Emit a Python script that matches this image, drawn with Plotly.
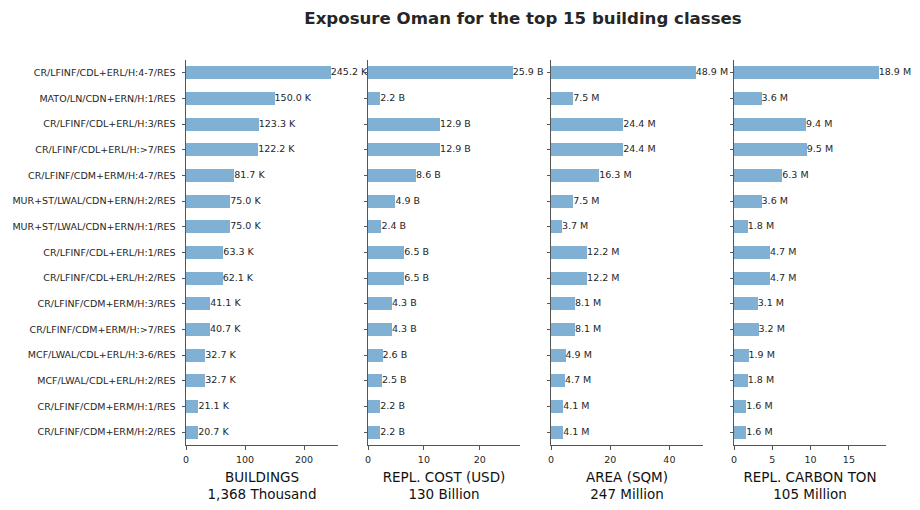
import plotly.graph_objects as go

categories = [
    "CR/LFINF/CDL+ERL/H:4-7/RES",
    "MATO/LN/CDN+ERN/H:1/RES",
    "CR/LFINF/CDL+ERL/H:3/RES",
    "CR/LFINF/CDL+ERL/H:>7/RES",
    "CR/LFINF/CDM+ERM/H:4-7/RES",
    "MUR+ST/LWAL/CDN+ERN/H:2/RES",
    "MUR+ST/LWAL/CDN+ERN/H:1/RES",
    "CR/LFINF/CDL+ERL/H:1/RES",
    "CR/LFINF/CDL+ERL/H:2/RES",
    "CR/LFINF/CDM+ERM/H:3/RES",
    "CR/LFINF/CDM+ERM/H:>7/RES",
    "MCF/LWAL/CDL+ERL/H:3-6/RES",
    "MCF/LWAL/CDL+ERL/H:2/RES",
    "CR/LFINF/CDM+ERM/H:1/RES",
    "CR/LFINF/CDM+ERM/H:2/RES",
]

buildings_k = [245.2, 150.0, 123.3, 122.2, 81.7, 75.0, 75.0, 63.3, 62.1, 41.1, 40.7, 32.7, 32.7, 21.1, 20.7]
cost_b = [25.9, 2.2, 12.9, 12.9, 8.6, 4.9, 2.4, 6.5, 6.5, 4.3, 4.3, 2.6, 2.5, 2.2, 2.2]
area_m = [48.9, 7.5, 24.4, 24.4, 16.3, 7.5, 3.7, 12.2, 12.2, 8.1, 8.1, 4.9, 4.7, 4.1, 4.1]
carbon_m = [18.9, 3.6, 9.4, 9.5, 6.3, 3.6, 1.8, 4.7, 4.7, 3.1, 3.2, 1.9, 1.8, 1.6, 1.6]

panel_titles = ["BUILDINGS<br>1,368 Thousand", "REPL. COST (USD)<br>130 Billion",
                "AREA (SQM)<br>247 Million", "REPL. CARBON TON<br>105 Million"]
units = ["K", "B", "M", "M"]
dticks = [100, 10, 20, 5]
series = [buildings_k, cost_b, area_m, carbon_m]

W, H = 920, 510
ML, MR, MT, MB = 186, 34, 60, 65
PW = W - ML - MR
lefts = [186, 368, 551, 734]
pw = 152
domains = [[(l - ML) / PW, min(1.0, (l - ML + pw) / PW)] for l in lefts]

bar_color = "#80b0d4"
txt_color = "#262626"
axis_color = "#555555"

fig = go.Figure()
for i, (vals, unit) in enumerate(zip(series, units)):
    xa = "x" if i == 0 else f"x{i+1}"
    ya = "y" if i == 0 else f"y{i+1}"
    fig.add_trace(go.Bar(
        x=vals, y=categories, orientation="h", width=0.5,
        marker=dict(color=bar_color, line=dict(width=0)),
        xaxis=xa, yaxis=ya, showlegend=False, hoverinfo="x+y",
    ))
    fig.add_trace(go.Scatter(
        x=vals, y=categories, mode="text",
        text=[f"{v:.1f} {unit}" for v in vals],
        textposition="middle right",
        textfont=dict(family="DejaVu Sans", size=9.5, color=txt_color),
        xaxis=xa, yaxis=ya, showlegend=False, hoverinfo="skip", cliponaxis=False,
    ))

layout = dict(
    width=W, height=H,
    margin=dict(l=ML, r=MR, t=MT, b=MB, autoexpand=False),
    plot_bgcolor="white", paper_bgcolor="white",
    font=dict(family="DejaVu Sans", color=txt_color),
    title=dict(text="<b>Exposure Oman for the top 15 building classes</b>",
               x=(523 - ML) / PW, xref="paper", xanchor="center",
               y=1 - 18 / H, yref="container", yanchor="middle",
               font=dict(family="DejaVu Sans", size=16.6, color=txt_color)),
    bargap=0,
)
for i in range(4):
    kx = "xaxis" if i == 0 else f"xaxis{i+1}"
    ky = "yaxis" if i == 0 else f"yaxis{i+1}"
    vmax = max(series[i])
    layout[kx] = dict(
        domain=domains[i], anchor="y" if i == 0 else f"y{i+1}",
        range=[0, vmax * 1.05], dtick=dticks[i], tick0=0,
        showline=True, linecolor=axis_color, linewidth=1,
        ticks="outside", ticklen=3.5, tickcolor=axis_color, tickwidth=1,
        ticklabelstandoff=2, automargin=False,
        showgrid=False, zeroline=False,
        tickfont=dict(family="DejaVu Sans", size=9.5, color=txt_color),
        title=dict(text=panel_titles[i], standoff=8,
                   font=dict(family="DejaVu Sans", size=13.5, color="#111111")),
    )
    layout[ky] = dict(
        anchor="x" if i == 0 else f"x{i+1}",
        type="category", categoryorder="array", categoryarray=categories,
        range=[14.5, -0.5],
        showline=True, linecolor=axis_color, linewidth=1,
        ticks="outside", ticklen=3.5, tickcolor=axis_color, tickwidth=1,
        ticklabelstandoff=4, automargin=False,
        showgrid=False, zeroline=False,
        showticklabels=(i == 0),
        tickfont=dict(family="DejaVu Sans", size=9.5, color=txt_color),
    )
fig.update_layout(**layout)
fig.write_html("out.html")
